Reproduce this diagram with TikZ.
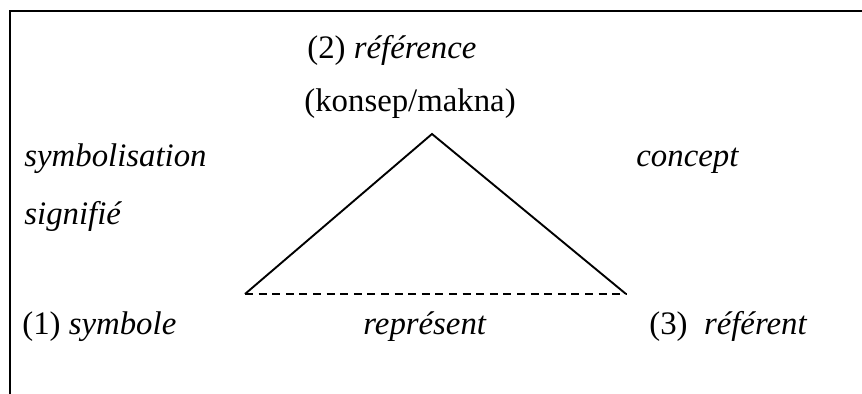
\documentclass[tikz,border=0pt]{standalone}
\usepackage{fontspec}
\setmainfont{Liberation Serif}
\begin{document}
\begin{tikzpicture}[x=0.5pt,y=-0.5pt,
  lbl/.style={inner sep=0pt,anchor=base west,font=\fontsize{16.4}{19}\selectfont},
  frame/.style={line width=1.2pt},
  edge/.style={line width=0.95pt},
  base/.style={line width=0.95pt,dash pattern=on 4pt off 2.8pt}]
\useasboundingbox (0,0) rectangle (862,394);
% open frame: top and left sides only
\coordinate (fl) at (10,394);
\coordinate (fc) at (10,11);
\coordinate (fr) at (862,11);
\draw[frame] (fl) -- (fc) -- (fr);
% triangle of meaning
\coordinate (apex) at (432,134);
\coordinate (sym) at (245,294);
\coordinate (ref) at (626,294);
\draw[edge,line join=miter] (sym) -- (apex) -- (ref);
\draw[base] (sym) -- (ref);
% labels
\node[lbl] (t2) at (307,59) {(2) \textit{référence}};
\node[lbl] (tk) at (304,112) {(konsep/makna)};
\node[lbl] (ts) at (24,167) {\textit{symbolisation}};
\node[lbl] (tsi) at (24,225) {\textit{signifié}};
\node[lbl] (tc) at (636,167) {\textit{concept}};
\node[lbl] (t1) at (22,335) {(1) \textit{symbole}};
\node[lbl] (tr) at (363,335) {\textit{représent}};
\node[lbl] (t3) at (649,335) {(3)\ \ \textit{référent}};
\end{tikzpicture}
\end{document}
